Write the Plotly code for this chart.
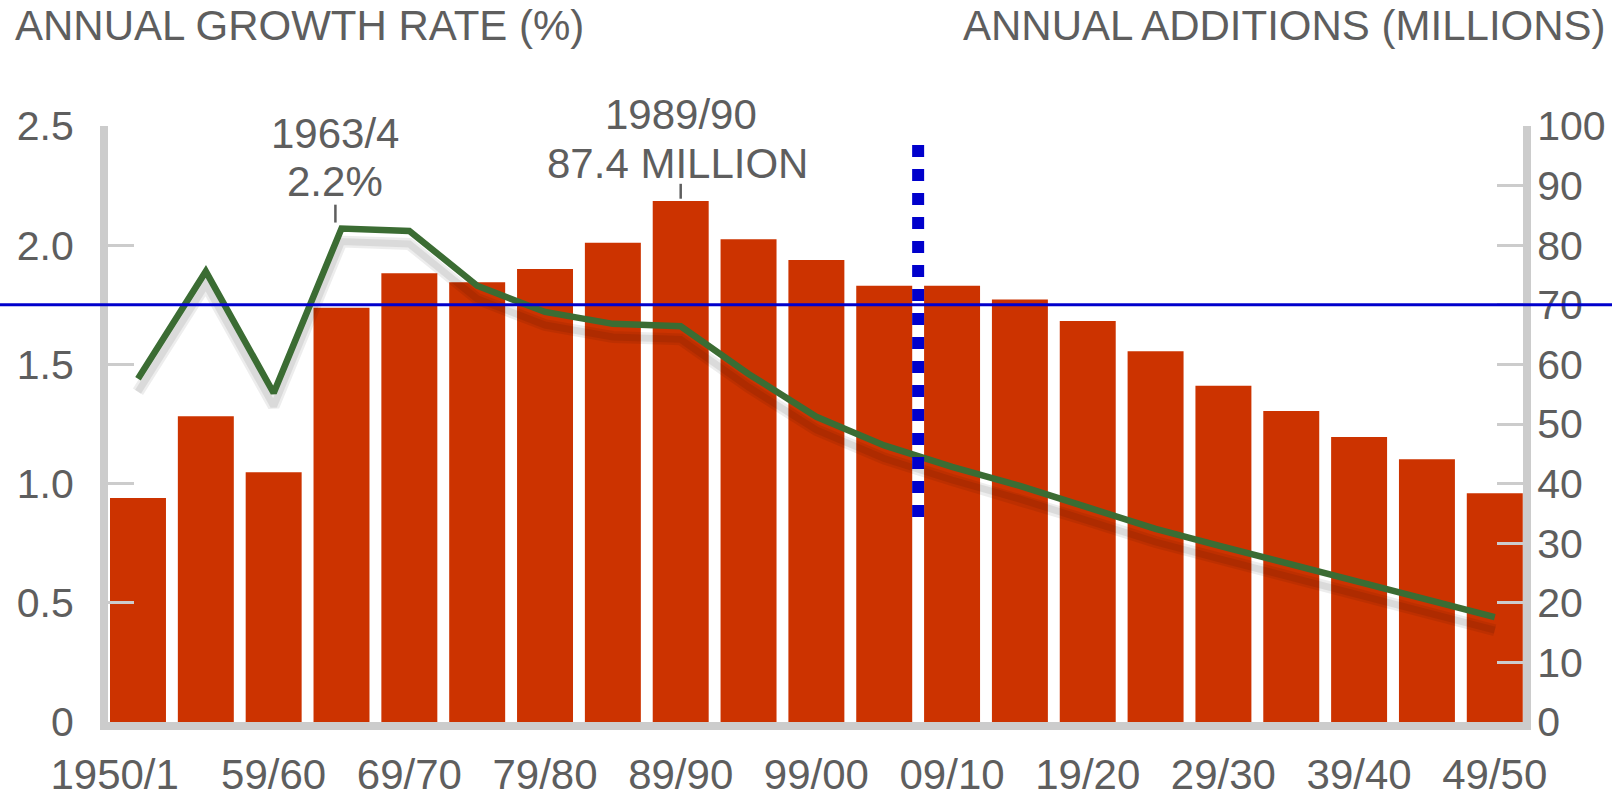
import plotly.graph_objects as go

# ---------------- data ----------------
periods = ["1950/51", "1954/55", "1959/60", "1964/65", "1969/70", "1974/75", "1979/80",
           "1984/85", "1989/90", "1994/95", "1999/00", "2004/05", "2009/10", "2014/15",
           "2019/20", "2024/25", "2029/30", "2034/35", "2039/40", "2044/45", "2049/50"]
annual_additions_millions = [37.6, 51.3, 41.9, 69.5, 75.3, 73.8, 76.0, 80.4, 87.4, 81.0, 77.5,
                             73.2, 73.2, 70.9, 67.3, 62.2, 56.4, 52.2, 47.8, 44.1, 38.4]
annual_growth_rate_pct = [1.44, 1.89, 1.38, 2.07, 2.06, 1.83, 1.72, 1.67, 1.66, 1.46, 1.28,
                          1.16, 1.07, 0.99, 0.90, 0.81, 0.735, 0.66, 0.585, 0.515, 0.44]
tick_periods = periods[::2]
tick_labels = ["1950/1", "59/60", "69/70", "79/80", "89/90", "99/00",
               "09/10", "19/20", "29/30", "39/40", "49/50"]
left_ticks = [0, 0.5, 1.0, 1.5, 2.0, 2.5]
left_tick_labels = ["0", "0.5", "1.0", "1.5", "2.0", "2.5"]
right_ticks = list(range(0, 101, 10))
reference_level_millions = 70
divider_position = 11.5           # between 2004/05 and 2009/10
divider_span_millions = (96.8, 34.4)
peak_growth_label = ("1963/4", "2.2%")
peak_additions_label = ("1989/90", "87.4 MILLION")

# ---------------- styles ----------------
FONT = "Liberation Sans, Arial, Helvetica, sans-serif"
GREY_TEXT = "#5e5e5e"
AXIS_GREY = "#cccccc"
BAR_RED = "#cc3300"
LINE_GREEN = "#3b6c33"
BLUE = "#0000cc"

fig = go.Figure()

fig.add_trace(go.Bar(
    x=periods, y=annual_additions_millions, yaxis="y",
    marker=dict(color=BAR_RED, line=dict(width=0)),
    hoverinfo="skip", showlegend=False,
))

shadow_offset = 0.055
fig.add_trace(go.Scatter(
    x=periods, y=[g - shadow_offset for g in annual_growth_rate_pct], yaxis="y2",
    mode="lines", line=dict(color="rgba(0,0,0,0.07)", width=12),
    hoverinfo="skip", showlegend=False,
))
fig.add_trace(go.Scatter(
    x=periods, y=[g - shadow_offset for g in annual_growth_rate_pct], yaxis="y2",
    mode="lines", line=dict(color="rgba(0,0,0,0.08)", width=7),
    hoverinfo="skip", showlegend=False,
))
fig.add_trace(go.Scatter(
    x=periods, y=annual_growth_rate_pct, yaxis="y2",
    mode="lines", line=dict(color=LINE_GREEN, width=6.5),
    hoverinfo="skip", showlegend=False,
))

peak_g_idx = annual_growth_rate_pct.index(max(annual_growth_rate_pct))
peak_a_idx = annual_additions_millions.index(max(annual_additions_millions))

shapes = [
    # horizontal reference line across the whole image
    dict(type="line", xref="paper", yref="y", x0=-0.1, x1=1.1,
         y0=reference_level_millions, y1=reference_level_millions,
         line=dict(color=BLUE, width=3), layer="above"),
    # dotted divider
    dict(type="line", xref="x", yref="y", x0=divider_position, x1=divider_position,
         y0=divider_span_millions[0], y1=divider_span_millions[1],
         line=dict(color=BLUE, width=12, dash="dot"), layer="above"),
    # annotation tick marks
    dict(type="line", xref="x", yref="y2", x0=peak_g_idx - 0.09, x1=peak_g_idx - 0.09,
         y0=annual_growth_rate_pct[peak_g_idx] + 0.025,
         y1=annual_growth_rate_pct[peak_g_idx] + 0.10,
         line=dict(color=GREY_TEXT, width=2.5)),
    dict(type="line", xref="x", yref="y", x0=peak_a_idx, x1=peak_a_idx,
         y0=annual_additions_millions[peak_a_idx] + 0.4,
         y1=annual_additions_millions[peak_a_idx] + 2.9,
         line=dict(color=GREY_TEXT, width=2.5)),
]

txt = dict(family=FONT, size=42, color=GREY_TEXT)
annotations = [
    dict(text="ANNUAL GROWTH RATE (%)", xref="paper", yref="paper", x=-0.0671, y=1.168,
         xanchor="left", yanchor="middle", showarrow=False, font=txt),
    dict(text="ANNUAL ADDITIONS (MILLIONS)", xref="paper", yref="paper", x=1.0601, y=1.168,
         xanchor="right", yanchor="middle", showarrow=False, font=txt),
    dict(text=peak_growth_label[0], xref="x", yref="paper", x=peak_g_idx - 0.09, y=0.9866,
         xanchor="center", yanchor="middle", showarrow=False, font=txt),
    dict(text=peak_growth_label[1], xref="x", yref="paper", x=peak_g_idx - 0.09, y=0.9077,
         xanchor="center", yanchor="middle", showarrow=False, font=txt),
    dict(text=peak_additions_label[0], xref="x", yref="paper", x=peak_a_idx, y=1.0185,
         xanchor="center", yanchor="middle", showarrow=False, font=txt),
    dict(text=peak_additions_label[1], xref="x", yref="paper", x=peak_a_idx - 0.04, y=0.9379,
         xanchor="center", yanchor="middle", showarrow=False, font=txt),
]

tick_text_display = [tick_labels[0] + "\u00a0" * 4] + tick_labels[1:]

fig.update_layout(
    width=1612, height=794, autosize=False,
    margin=dict(l=108, r=89, t=126, b=72, pad=0, autoexpand=False),
    paper_bgcolor="white", plot_bgcolor="white",
    bargap=0.175,
    showlegend=False,
    font=dict(family=FONT, color=GREY_TEXT),
    xaxis=dict(
        type="category", categoryorder="array", categoryarray=periods,
        range=[-0.442, 20.416], automargin=False,
        tickmode="array", tickvals=tick_periods, ticktext=tick_text_display,
        tickangle=0,
        ticks="", showgrid=False, zeroline=False,
        showline=True, linecolor=AXIS_GREY, linewidth=8,
        tickfont=dict(family=FONT, size=42, color=GREY_TEXT),
        ticklabelstandoff=9,
    ),
    yaxis=dict(
        side="right", range=[0, 100], automargin=False,
        tickmode="array", tickvals=right_ticks, ticktext=[str(v) for v in right_ticks],
        ticks="inside", ticklen=26, tickwidth=3, tickcolor=AXIS_GREY,
        showgrid=False, zeroline=False,
        showline=True, linecolor=AXIS_GREY, linewidth=8,
        tickfont=dict(family=FONT, size=41, color=GREY_TEXT),
        ticklabelstandoff=-2,
    ),
    yaxis2=dict(
        side="left", overlaying="y", range=[0, 2.5], automargin=False,
        tickmode="array", tickvals=left_ticks, ticktext=left_tick_labels,
        ticks="inside", ticklen=26, tickwidth=3, tickcolor=AXIS_GREY,
        showgrid=False, zeroline=False,
        showline=True, linecolor=AXIS_GREY, linewidth=8,
        tickfont=dict(family=FONT, size=41, color=GREY_TEXT),
        ticklabelstandoff=18,
    ),
    shapes=shapes,
    annotations=annotations,
)

fig.write_html("out.html", config={"displayModeBar": False, "staticPlot": True},
               post_script="document.body.style.margin='0';document.body.style.overflow='hidden';")
